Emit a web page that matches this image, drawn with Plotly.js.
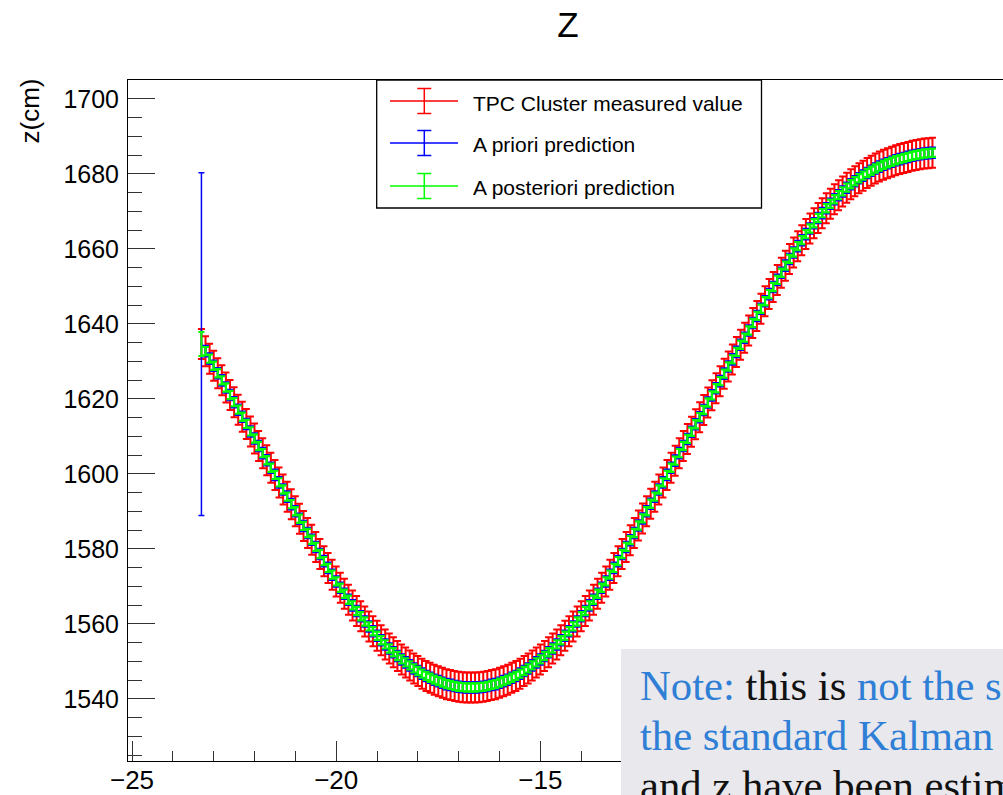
<!DOCTYPE html>
<html>
<head>
<meta charset="utf-8">
<script src="https://cdn.plot.ly/plotly-3.0.1.min.js"></script>
<style>
html, body { margin:0; padding:0; overflow:hidden; background:#fff; width:1003px; height:795px; }
#chart { position:absolute; left:0; top:0; width:1003px; height:795px; }
#note { position:absolute; left:621px; top:649px; width:382px; height:146px; background:#e9e8ec;
        overflow:hidden; white-space:nowrap; box-sizing:border-box; padding:12px 0 0 19px;
        font-family:"Liberation Serif","DejaVu Serif",serif; font-size:42.7px; line-height:50px; color:#111; }
#note .b { color:#2f7fd6; }
</style>
</head>
<body>
<div id="chart"></div>
<div id="note"><span class="b">Note:</span> this is <span class="b">not the same as</span><br><span class="b">the standard Kalman</span> filter, since x, y<br>and z have been estimated separately</div>
<script>
// ---- data ----
const xPos = [
  -23.3,-23.2,-23.1,-23.0,-22.9,-22.8,-22.7,-22.6,-22.5,-22.4,
  -22.3,-22.2,-22.1,-22.0,-21.9,-21.8,-21.7,-21.6,-21.5,-21.4,
  -21.3,-21.2,-21.1,-21.0,-20.9,-20.8,-20.7,-20.6,-20.5,-20.4,
  -20.3,-20.2,-20.1,-20.0,-19.9,-19.8,-19.7,-19.6,-19.5,-19.4,
  -19.3,-19.2,-19.1,-19.0,-18.9,-18.8,-18.7,-18.6,-18.5,-18.4,
  -18.3,-18.2,-18.1,-18.0,-17.9,-17.8,-17.7,-17.6,-17.5,-17.4,
  -17.3,-17.2,-17.1,-17.0,-16.9,-16.8,-16.7,-16.6,-16.5,-16.4,
  -16.3,-16.2,-16.1,-16.0,-15.9,-15.8,-15.7,-15.6,-15.5,-15.4,
  -15.3,-15.2,-15.1,-15.0,-14.9,-14.8,-14.7,-14.6,-14.5,-14.4,
  -14.3,-14.2,-14.1,-14.0,-13.9,-13.8,-13.7,-13.6,-13.5,-13.4,
  -13.3,-13.2,-13.1,-13.0,-12.9,-12.8,-12.7,-12.6,-12.5,-12.4,
  -12.3,-12.2,-12.1,-12.0,-11.9,-11.8,-11.7,-11.6,-11.5,-11.4,
  -11.3,-11.2,-11.1,-11.0,-10.9,-10.8,-10.7,-10.6,-10.5,-10.4,
  -10.3,-10.2,-10.1,-10.0,-9.9,-9.8,-9.7,-9.6,-9.5,-9.4,
  -9.3,-9.2,-9.1,-9.0,-8.9,-8.8,-8.7,-8.6,-8.5,-8.4,
  -8.3,-8.2,-8.1,-8.0,-7.9,-7.8,-7.7,-7.6,-7.5,-7.4,
  -7.3,-7.2,-7.1,-7.0,-6.9,-6.8,-6.7,-6.6,-6.5,-6.4,
  -6.3,-6.2,-6.1,-6.0,-5.9,-5.8,-5.7,-5.6,-5.5,-5.4
];
const zTrack = [
  1634.6,1632.7,1630.7,1628.8,1626.8,1624.9,1623.0,1621.0,1619.1,1617.1,
  1615.2,1613.3,1611.3,1609.4,1607.4,1605.5,1603.6,1601.6,1599.7,1597.7,
  1595.8,1593.9,1591.9,1590.0,1588.0,1586.1,1584.2,1582.4,1580.5,1578.6,
  1576.7,1574.9,1573.1,1571.3,1569.6,1568.0,1566.4,1564.9,1563.4,1562.0,
  1560.6,1559.3,1558.0,1556.8,1555.6,1554.5,1553.4,1552.4,1551.4,1550.5,
  1549.7,1548.9,1548.1,1547.4,1546.7,1546.1,1545.6,1545.1,1544.7,1544.3,
  1543.9,1543.7,1543.4,1543.2,1543.1,1543.0,1543.0,1543.0,1543.1,1543.2,
  1543.4,1543.7,1543.9,1544.3,1544.7,1545.1,1545.6,1546.1,1546.7,1547.4,
  1548.1,1548.9,1549.7,1550.5,1551.4,1552.4,1553.4,1554.5,1555.6,1556.8,
  1558.0,1559.3,1560.6,1562.0,1563.4,1564.9,1566.4,1568.0,1569.6,1571.3,
  1573.1,1574.9,1576.7,1578.6,1580.5,1582.3,1584.2,1586.2,1588.1,1590.0,
  1592.0,1593.9,1595.8,1597.7,1599.7,1601.6,1603.5,1605.5,1607.4,1609.3,
  1611.2,1613.2,1615.1,1617.0,1619.0,1620.9,1622.8,1624.7,1626.7,1628.6,
  1630.5,1632.5,1634.4,1636.3,1638.2,1640.2,1642.1,1644.0,1646.0,1647.9,
  1649.8,1651.7,1653.6,1655.5,1657.3,1659.0,1660.7,1662.3,1663.9,1665.4,
  1666.8,1668.2,1669.5,1670.8,1672.0,1673.2,1674.3,1675.3,1676.3,1677.2,
  1678.0,1678.8,1679.5,1680.2,1680.8,1681.4,1681.9,1682.4,1682.8,1683.2,
  1683.6,1683.9,1684.2,1684.5,1684.8,1685.0,1685.2,1685.4,1685.5,1685.6
];
const measuredErr = 4.0;       // TPC cluster measurement error (cm)
const priorSeedErr = 45.7;     // a priori error of first point
const priorErr = 1.4;
const posteriorSeedErr = 3.2;  // a posteriori error of first point
const posteriorErr = 1.1;
const seriesNames = ['TPC Cluster measured value', 'A priori prediction', 'A posteriori prediction'];
const seriesColors = ['#ff0000', '#0000ff', '#00ff00'];
const xTickVals = [-25, -20, -15];   // -10 and -5 lie under the note box
const yTickVals = [1540, 1560, 1580, 1600, 1620, 1640, 1660, 1680, 1700];

// ---- geometry ----
const W = 1003, H = 795, L = 128, T = 80, B = 34;
const plotW = W - L, plotH = H - T - B;
const xp = v => (v - L) / plotW;
const yp = v => (H - B - v) / plotH;
const FONT = 'Liberation Sans, Arial, Helvetica, sans-serif';

function errTrace(xs, ys, err, color, isArray, thick, capw) {
  return {
    type: 'scatter', mode: 'markers', x: xs, y: ys,
    marker: { size: 2, color: color },
    error_y: isArray
      ? { type: 'data', array: err, color: color, thickness: thick, width: capw }
      : { type: 'constant', value: err, color: color, thickness: thick, width: capw },
    hoverinfo: 'skip', showlegend: false, cliponaxis: false
  };
}

const traces = [
  errTrace(xPos, zTrack, measuredErr, seriesColors[0], false, 2, 3.5),
  errTrace(xPos.slice(1), zTrack.slice(1), priorErr, seriesColors[1], false, 2, 3.5),
  errTrace([xPos[0]], [zTrack[0]], [priorSeedErr], seriesColors[1], true, 1.5, 3),
  errTrace(xPos.slice(1), zTrack.slice(1), posteriorErr, seriesColors[2], false, 2.2, 3.5),
  errTrace([xPos[0]], [zTrack[0]], [posteriorSeedErr], seriesColors[2], true, 2, 3)
];

// ---- custom ROOT-style legend ----
const shapes = [{
  type: 'rect', xref: 'paper', yref: 'paper',
  x0: xp(376.7), x1: xp(761.5), y0: yp(208), y1: yp(80),
  line: { color: '#000', width: 1.3 }, fillcolor: '#fff', layer: 'above'
}];
const annotations = [];
const symY = [101, 143, 186];
const txtY = [103, 144.5, 187];
seriesNames.forEach((name, i) => {
  const c = seriesColors[i], y = symY[i];
  const seg = (x0, y0, x1, y1) => shapes.push({
    type: 'line', xref: 'paper', yref: 'paper',
    x0: xp(x0), y0: yp(y0), x1: xp(x1), y1: yp(y1),
    line: { color: c, width: 1.5 }, layer: 'above'
  });
  seg(390, y, 458, y);
  seg(424.3, y - 12.5, 424.3, y + 12.5);
  seg(417.3, y - 12.5, 431.3, y - 12.5);
  seg(417.3, y + 12.5, 431.3, y + 12.5);
  annotations.push({
    xref: 'paper', yref: 'paper', x: xp(470.5), y: yp(txtY[i]),
    xanchor: 'left', yanchor: 'middle', showarrow: false, text: name,
    font: { family: FONT, size: 21, color: '#000' }
  });
});
annotations.push({
  xref: 'paper', yref: 'paper', x: xp(29), y: yp(111.5),
  xanchor: 'center', yanchor: 'middle', showarrow: false, text: 'z(cm)', textangle: -90,
  font: { family: FONT, size: 26, color: '#000' }
});

const axisCommon = {
  showline: true, linecolor: '#000', linewidth: 1,
  ticks: 'inside', tickcolor: '#333', tickwidth: 1,
  showgrid: false, zeroline: false, automargin: false, fixedrange: true
};

const layout = {
  width: W, height: H,
  margin: { l: L, r: 0, t: T, b: B, pad: 0 },
  paper_bgcolor: '#fff', plot_bgcolor: '#fff', showlegend: false,
  title: {
    text: 'Z', font: { family: FONT, size: 35, color: '#000' },
    xref: 'container', x: 568 / W, xanchor: 'center',
    yref: 'container', y: 1 - 24.5 / H, yanchor: 'middle'
  },
  xaxis: Object.assign({}, axisCommon, {
    range: [-25.098, -3.673], mirror: true,
    tickmode: 'array', tickvals: xTickVals, ticklen: 20,
    minor: { dtick: 1, tick0: 0, ticks: 'inside', ticklen: 10, tickcolor: '#333', tickwidth: 1, showgrid: false },
    tickfont: { family: FONT, size: 26, color: '#000' }, ticklabelstandoff: -4
  }),
  yaxis: Object.assign({}, axisCommon, {
    range: [1523.4, 1705.0],
    tickmode: 'array', tickvals: yTickVals, ticklen: 27,
    minor: { dtick: 5, tick0: 0, ticks: 'inside', ticklen: 13.5, tickcolor: '#333', tickwidth: 1, showgrid: false },
    tickfont: { family: FONT, size: 25, color: '#000' }, ticklabelstandoff: 3
  }),
  shapes: shapes,
  annotations: annotations
};

Plotly.newPlot('chart', traces, layout, { staticPlot: true, displayModeBar: false });
</script>
</body>
</html>
